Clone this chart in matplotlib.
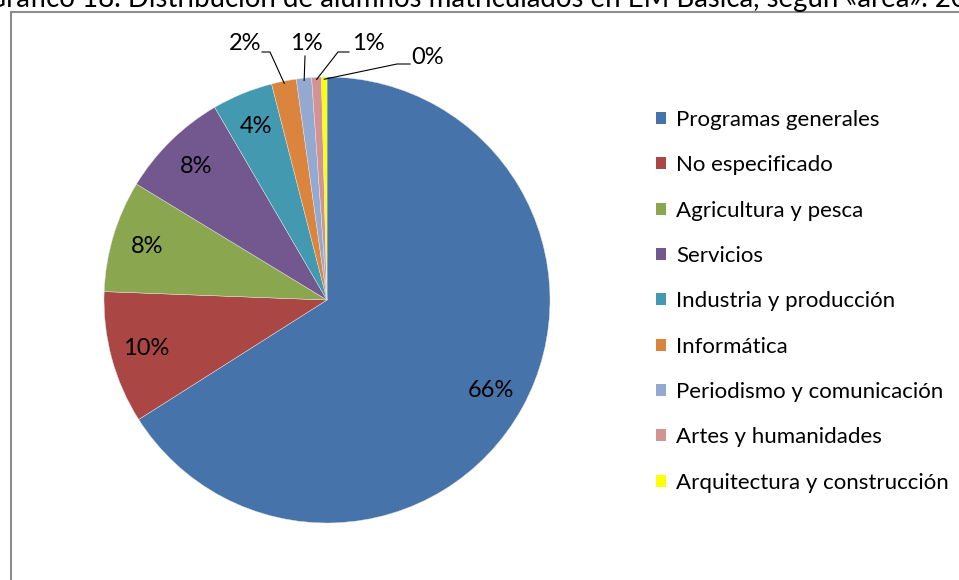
import numpy as np
import matplotlib
matplotlib.use("Agg")
import matplotlib.pyplot as plt
from matplotlib.patches import Rectangle, Patch

plt.rcParams['font.family'] = ['Lato', 'DejaVu Sans']

# datos
areas = ["Programas generales", "No especificado", "Agricultura y pesca",
         "Servicios", "Industria y producción", "Informática",
         "Periodismo y comunicación", "Artes y humanidades",
         "Arquitectura y construcción"]
pct = [66.0, 9.6, 8.1, 7.9, 4.4, 1.8, 1.1, 0.7, 0.4]
colores = ["#4674AA", "#AA4744", "#8AA64F", "#72588F", "#4299B0",
           "#DB843D", "#94A9CF", "#D19493", "#FFFF00"]
titulo = "Gráfico 18. Distribución de alumnos matriculados en EM Básica, según «área». 20"

W, H = 959, 580
fig = plt.figure(figsize=(W / 100, H / 100), dpi=100)

# titulo (cortado arriba como en el original)
fig.text(-14 / W, 1 - 7 / H, titulo, fontsize=19.9, ha='left', va='baseline')

# marco del grafico
fig.patches.append(Rectangle((11 / W, -0.1), 1.2, 1 - 12 / H + 0.1,
                             transform=fig.transFigure, fill=False,
                             edgecolor='#8c8c8c', linewidth=1.5))

# ejes del pie: centro (327, 300) px, radio 223 px
cx, cy, r = 327, 300, 223
ax = fig.add_axes([(cx - r) / W, (H - cy - r) / H, 2 * r / W, 2 * r / H])

wedges, _ = ax.pie(pct, colors=colores, startangle=90, counterclock=False,
                   radius=1, wedgeprops=dict(linewidth=0.3, edgecolor='#e8e8e8'))
ax.set_xlim(-1, 1)
ax.set_ylim(-1, 1)
ax.axis('off')

def px(x, y):
    return (x - cx) / r, (cy - y) / r

etiquetas = ["%d%%" % round(v) for v in pct]

# etiquetas dentro
for w, lab in zip(wedges[:5], etiquetas[:5]):
    ang = np.deg2rad((w.theta1 + w.theta2) / 2)
    ax.text(0.84 * np.cos(ang), 0.84 * np.sin(ang), lab, ha='center', va='center',
            fontsize=17, color='black')

# etiquetas fuera con lineas guia
pos_txt = [(245, 44), (306, 44), (368, 44), (428, 57)]
guias = [[(262, 52), (270, 52)], [(305, 56)], [(349, 52), (338, 52)],
         [(410, 64), (397, 64)]]
for w, lab, (tx, ty), pts in zip(wedges[5:], etiquetas[5:], pos_txt, guias):
    ang = np.deg2rad((w.theta1 + w.theta2) / 2)
    ax.text(*px(tx, ty), lab, ha='center', va='center', fontsize=17)
    lx = [px(*p)[0] for p in pts] + [0.99 * np.cos(ang)]
    ly = [px(*p)[1] for p in pts] + [0.99 * np.sin(ang)]
    ax.plot(lx, ly, color='black', linewidth=0.8, clip_on=False)

# leyenda
handles = [Patch(facecolor=c, edgecolor='none') for c in colores]
fig.legend(handles, areas, loc='upper left', bbox_to_anchor=(647 / W, 1 - 101 / H),
           frameon=False, fontsize=16, handlelength=0.45, handleheight=0.45,
           handletextpad=0.45, labelspacing=1.14, borderaxespad=0)

fig.savefig("out.png", dpi=100)
